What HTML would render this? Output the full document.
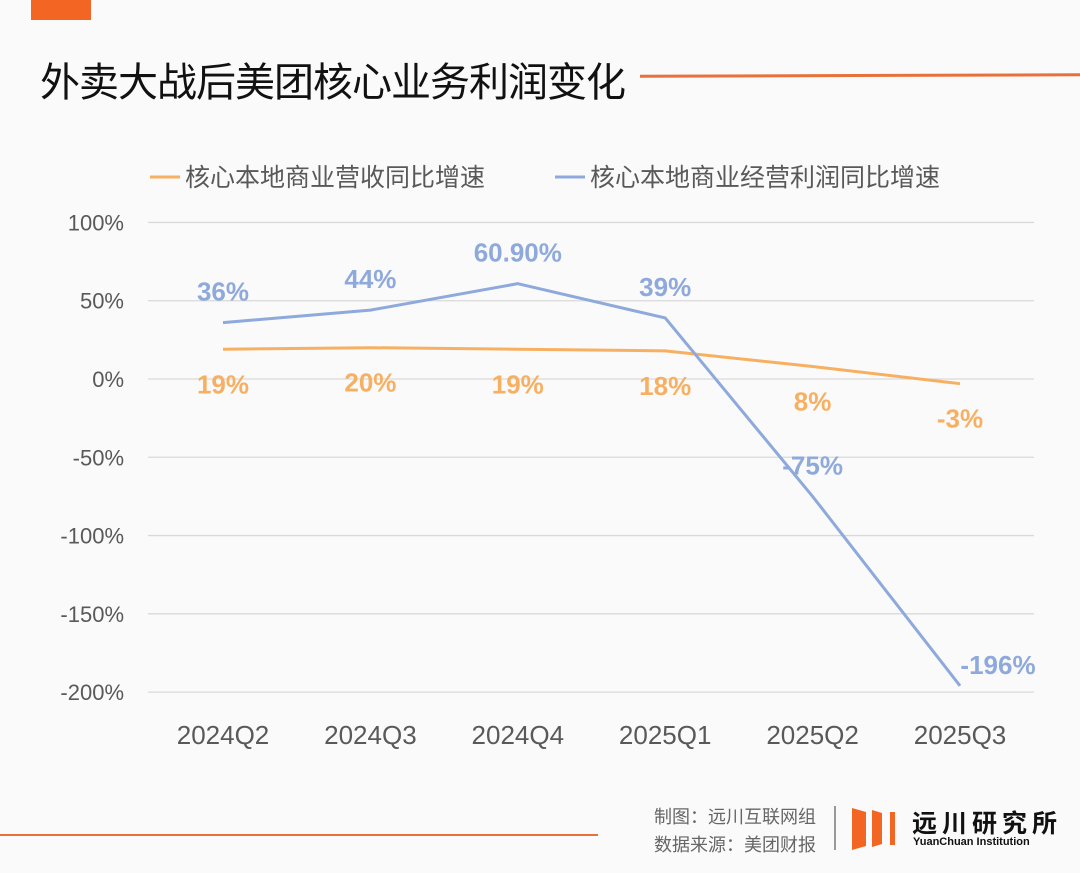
<!DOCTYPE html>
<html><head><meta charset="utf-8"><style>
body{margin:0;background:#fafafa;}
#root{position:relative;width:1080px;height:873px;background:#fafafa;overflow:hidden;font-family:"Liberation Sans","Noto Sans CJK SC",sans-serif;}
</style></head><body>
<div id="root">
<div style="position:absolute;left:31px;top:0;width:60px;height:20px;background:#f26522"></div>
<div style="position:absolute;left:40px;top:50px;font-size:40px;color:#111;font-family:'Noto Sans CJK SC',sans-serif;letter-spacing:-1px">外卖大战后美团核心业务利润变化</div>
<div style="position:absolute;left:640px;top:74px;width:440px;height:3px;background:#e8703a;transform:rotate(-0.2deg)"></div>
<svg id="chart" width="1080" height="873" style="position:absolute;left:0;top:0"></svg>
<div style="position:absolute;left:0;top:834px;width:598px;height:2px;background:#e8703a"></div>
<div style="position:absolute;left:630px;top:802px;width:186px;text-align:right;font-size:18px;line-height:28px;color:#666;font-family:'Noto Sans CJK SC',sans-serif">制图：远川互联网组<br>数据来源：美团财报</div>
<div style="position:absolute;left:834px;top:806px;width:2px;height:44px;background:#999"></div>
<svg style="position:absolute;left:852px;top:806px" width="50" height="46"><polygon points="0,2 14,6 14,40 0,44" fill="#f26522"/><polygon points="20,4 30,7 30,38 20,41" fill="#f26522"/><rect x="38" y="6" width="5" height="33" fill="#f26522"/></svg>
<div style="position:absolute;left:912px;top:804px;font-size:25px;font-weight:bold;color:#111;letter-spacing:5px;font-family:'Noto Sans CJK SC',sans-serif">远川研究所</div>
<div style="position:absolute;left:913px;top:836px;font-size:11px;font-weight:bold;color:#111">YuanChuan Institution</div>
</div>
<script>
const categories=["2024Q2","2024Q3","2024Q4","2025Q1","2025Q2","2025Q3"];
const revenue=[19,20,19,18,8,-3];
const revenueLabels=["19%","20%","19%","18%","8%","-3%"];
const profit=[36,44,60.9,39,-75,-196];
const profitLabels=["36%","44%","60.90%","39%","-75%","-196%"];
const yTicks=[100,50,0,-50,-100,-150,-200];
const seriesNames=["核心本地商业营收同比增速","核心本地商业经营利润同比增速"];
const svg=document.getElementById('chart');const NS='http://www.w3.org/2000/svg';
const y=v=>379-(v)*1.5655;
const x=i=>223+i*147.4;
function mk(t,a,p){const e=document.createElementNS(NS,t);for(const k in a)e.setAttribute(k,a[k]);(p||svg).appendChild(e);return e;}
yTicks.forEach(v=>{
 const g=mk('line',{x1:148,x2:1034,y1:y(v),y2:y(v),stroke:'#d9d9d9','stroke-width':1.3});
 
 
 const t=mk('text',{x:124,y:y(v)+8,'text-anchor':'end','font-size':22,fill:'#595959','font-family':'Liberation Sans,sans-serif'});t.textContent=v+'%';
 
 
});
categories.forEach((c,i)=>{const t=mk('text',{x:x(i),y:744,'text-anchor':'middle','font-size':26,fill:'#595959','font-family':'Liberation Sans,sans-serif'});t.textContent=c;
 
 });
function line(vals,color,name){const p=mk('polyline',{points:vals.map((v,i)=>x(i)+','+y(v)).join(' '),fill:'none',stroke:color,'stroke-width':3,'stroke-linejoin':'round'});
 
 }
line(revenue,'#f7b062','revenue-line');
line(profit,'#8ea9db','profit-line');
revenue.forEach((v,i)=>{const t=mk('text',{x:x(i),y:y(v)+44,'text-anchor':'middle','font-size':26,'font-weight':'bold',fill:'#f7b062','font-family':'Liberation Sans,sans-serif'});t.textContent=revenueLabels[i];
 
 });
profit.forEach((v,i)=>{let dx=0,dy=-22;if(i==5){dx=38;dy=-12}
 const t=mk('text',{x:x(i)+dx,y:y(v)+dy,'text-anchor':'middle','font-size':26,'font-weight':'bold',fill:'#8ea9db','font-family':'Liberation Sans,sans-serif'});t.textContent=profitLabels[i];
 
 });
const lx=[150,555],lc=['#f7b062','#8ea9db'];
seriesNames.forEach((n,i)=>{const l=mk('line',{x1:lx[i],x2:lx[i]+30,y1:177,y2:177,stroke:lc[i],'stroke-width':3});
 
 
 const t=mk('text',{x:lx[i]+35,y:186,'font-size':25,fill:'#595959','font-family':'Noto Sans CJK SC,sans-serif'});t.textContent=n;
 
 });
</script>
</body></html>
